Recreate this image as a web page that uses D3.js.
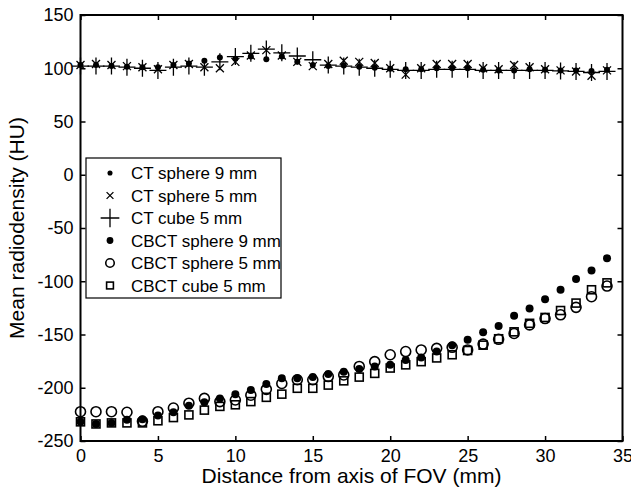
<!DOCTYPE html>
<html>
<head>
<meta charset="utf-8">
<script src="https://cdn.jsdelivr.net/npm/d3@7"></script>
<style>
  body { margin: 0; background: #fff; }
  svg { display: block; font-family: "Liberation Sans", Arial, sans-serif; }
</style>
</head>
<body>
<svg id="chart" width="631" height="493"></svg>
<script>
// distance from FOV axis (mm)
var distance = d3.range(0, 35);

var ctSphere9 = [103, 103, 102, 101.5, 101, 101, 103, 104.5, 107, 110, 109, 111, 108.5, 111, 106, 103, 102, 102.5, 101.5, 100.5, 99.5, 99, 99, 100, 100, 100, 98.5, 98, 98, 99, 98.5, 98, 98, 97.5, 98.5];
var ctSphere5 = [103, 104, 103, 102, 101, 99, 103, 104, 101, 100, 106, 112, 117, 112, 106, 102, 104, 107, 106, 105, 100, 94, 100, 104, 104, 104, 100, 99, 103, 101, 99, 98, 97, 93, 98];
var ctCube5 = [102, 102, 102, 101, 100, 98, 101, 102, 101, 106, 111, 114, 118, 114.5, 111.5, 108, 103, 102, 101, 100, 99, 98, 98, 99, 99, 99, 98, 98, 98, 98, 98, 97.5, 97, 96, 97];
var cbctSphere9 = [-232, -234, -233, -230, -229.5, -226, -223, -217, -213.5, -210, -206, -202, -196.5, -191, -191, -190, -187, -185, -182.5, -180, -178.5, -174, -171.5, -166, -160, -155, -148, -142, -132.5, -125.5, -117, -108, -98, -90, -78.5];
var cbctSphere5 = [-222.5, -222.5, -222.5, -223, -231.5, -222.5, -219, -214.5, -210, -213, -211.5, -207, -201.5, -196, -192.5, -192.5, -189.5, -188, -180, -175.5, -169, -166, -164.5, -163, -162, -164.5, -159, -154.5, -149, -141, -135, -131.5, -124.5, -114.5, -104.5];
var cbctCube5 = [-232, -234, -233, -233, -233, -231, -228, -225.5, -221, -217.5, -216, -213, -209, -206, -200.5, -200.5, -197.5, -193.5, -190, -186.5, -181.5, -178.5, -175.5, -172, -169, -165, -160, -154, -147.5, -139.5, -134, -127.5, -120.5, -108, -101.5];

var seriesNames = ["CT sphere 9 mm", "CT sphere 5 mm", "CT cube 5 mm", "CBCT sphere 9 mm", "CBCT sphere 5 mm", "CBCT cube 5 mm"];
var xTicks = [0, 5, 10, 15, 20, 25, 30, 35];
var yTicks = [-250, -200, -150, -100, -50, 0, 50, 100, 150];

var svg = d3.select("#chart");
var mLeft = 80.5, mRight = 622.5, mTop = 15, mBottom = 441;

var x = d3.scaleLinear().domain([0, 35]).range([mLeft, mRight]);
var y = d3.scaleLinear().domain([-250, 150]).range([mBottom, mTop]);

// marker drawers: (g, size scale)
function drawDotSmall(g, s) { g.append("circle").attr("r", 3 * s).attr("fill", "#000"); }
function drawX(g, s) {
  var a = 4 * s;
  g.append("path").attr("d", `M${-a},${-a}L${a},${a}M${-a},${a}L${a},${-a}`).attr("stroke", "#000").attr("stroke-width", 1.3);
}
function drawPlus(g, s) {
  var a = 8.5 * s;
  g.append("path").attr("d", `M${-a},0L${a},0M0,${-a}L0,${a}`).attr("stroke", "#000").attr("stroke-width", 1.3);
}
function drawDot(g, s) { g.append("circle").attr("r", 4 * s).attr("fill", "#000"); }
function drawCircle(g, s) { g.append("circle").attr("r", 5 * s).attr("fill", "none").attr("stroke", "#000").attr("stroke-width", 1.6); }
function drawSquare(g, s) {
  var a = 4 * s;
  g.append("rect").attr("x", -a).attr("y", -a).attr("width", 2 * a).attr("height", 2 * a).attr("fill", "none").attr("stroke", "#000").attr("stroke-width", 1.6);
}

var series = [
  { name: seriesNames[0], values: ctSphere9, draw: drawDotSmall },
  { name: seriesNames[1], values: ctSphere5, draw: drawX },
  { name: seriesNames[2], values: ctCube5, draw: drawPlus },
  { name: seriesNames[3], values: cbctSphere9, draw: drawDot },
  { name: seriesNames[4], values: cbctSphere5, draw: drawCircle },
  { name: seriesNames[5], values: cbctCube5, draw: drawSquare }
];

// points
series.forEach(sr => {
  svg.append("g").selectAll("g")
    .data(sr.values)
    .join("g")
    .attr("transform", (d, i) => `translate(${x(distance[i])},${y(d)})`)
    .each(function () { sr.draw(d3.select(this), 1); });
});

// axes (ticks inward, box); plain hyphen minus like the original
var fs = 18;
var fmt = d => String(d);
svg.append("g").attr("transform", `translate(0,${mBottom})`)
  .call(d3.axisBottom(x).tickValues(xTicks).tickFormat(fmt).tickSize(-5).tickPadding(8).tickSizeOuter(0))
  .call(g => g.selectAll("text").attr("font-size", fs).attr("font-family", "Liberation Sans, Arial, sans-serif").attr("fill", "#000"));
svg.append("g").attr("transform", `translate(0,${mTop})`)
  .call(d3.axisTop(x).tickValues(xTicks).tickSize(-5).tickFormat("").tickSizeOuter(0));
svg.append("g").attr("transform", `translate(${mLeft},0)`)
  .call(d3.axisLeft(y).tickValues(yTicks).tickFormat(fmt).tickSize(-5).tickPadding(7).tickSizeOuter(0))
  .call(g => g.selectAll("text").attr("font-size", fs).attr("font-family", "Liberation Sans, Arial, sans-serif").attr("fill", "#000"));
svg.append("g").attr("transform", `translate(${mRight},0)`)
  .call(d3.axisRight(y).tickValues(yTicks).tickSize(-5).tickFormat("").tickSizeOuter(0));
svg.selectAll(".domain").remove();
svg.selectAll(".tick line").attr("stroke", "#000").attr("stroke-width", 1.5);

svg.append("rect").attr("x", mLeft).attr("y", mTop).attr("width", mRight - mLeft).attr("height", mBottom - mTop)
  .attr("fill", "none").attr("stroke", "#000").attr("stroke-width", 2);

// axis labels
svg.append("text").attr("x", (mLeft + mRight) / 2).attr("y", 483).attr("text-anchor", "middle")
  .attr("font-size", 21).text("Distance from axis of FOV (mm)");
svg.append("text").attr("transform", `translate(24,${(mTop + mBottom) / 2}) rotate(-90)`).attr("text-anchor", "middle")
  .attr("font-size", 21).text("Mean radiodensity (HU)");

// legend
var lg = svg.append("g").attr("transform", "translate(86,158)");
lg.append("rect").attr("width", 195).attr("height", 140).attr("fill", "#fff").attr("stroke", "#000").attr("stroke-width", 1.2);
series.forEach((sr, i) => {
  var row = lg.append("g").attr("transform", `translate(0,${15 + i * 22.5})`);
  var m = row.append("g").attr("transform", "translate(24,0)");
  sr.draw(m, sr.draw === drawPlus ? 1.1 : 0.85);
  row.append("text").attr("x", 45).attr("y", 6).attr("font-size", 17).text(sr.name);
});
</script>
</body>
</html>
